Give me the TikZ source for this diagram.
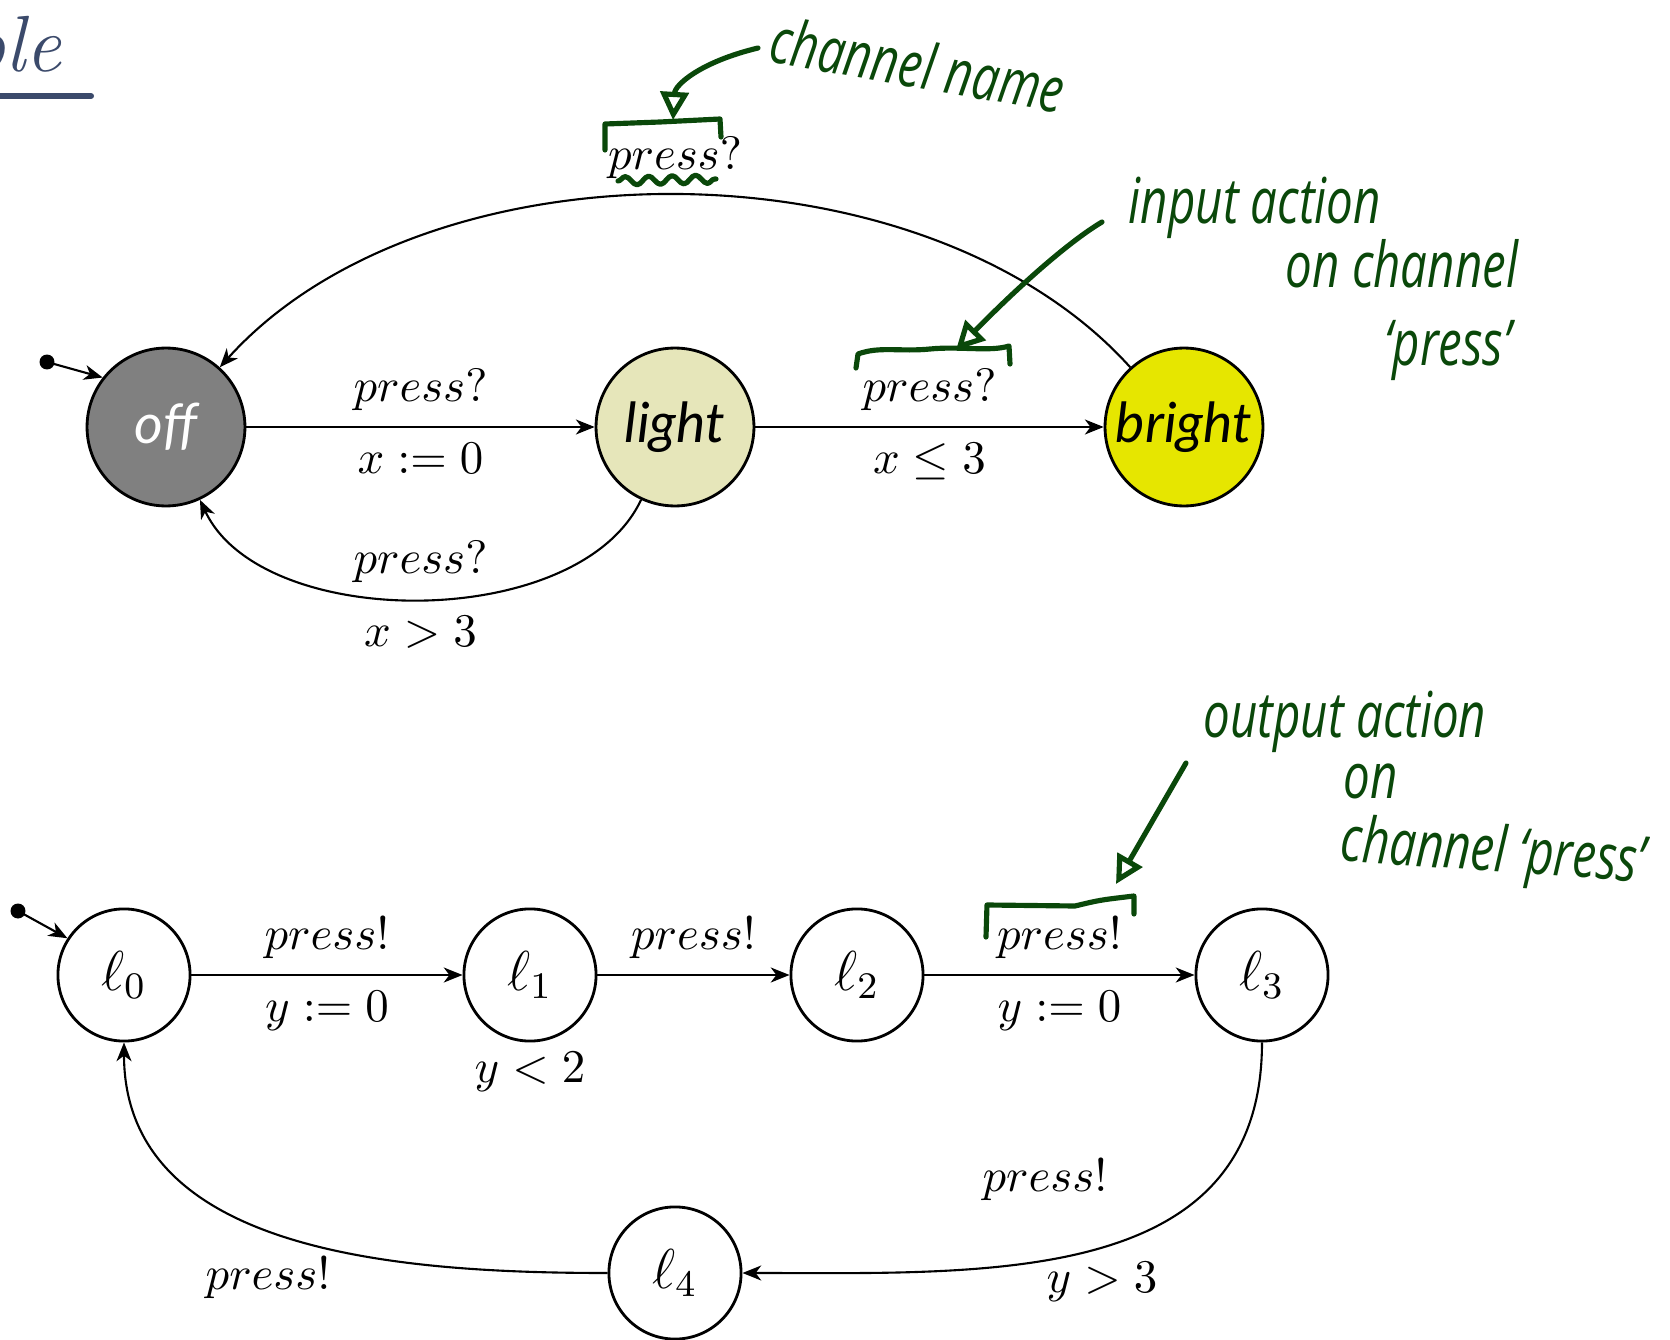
\documentclass[tikz,border=0pt]{standalone}
\usepackage{fontspec}
\usetikzlibrary{arrows.meta,decorations.pathmorphing}
\newfontfamily\nodefont{Lato}
\newfontfamily\hand[FakeStretch=0.75]{Open Sans}
\definecolor{pen}{RGB}{10,72,10}
\definecolor{titlec}{RGB}{59,74,107}
\definecolor{offc}{RGB}{128,128,128}
\definecolor{lightc}{RGB}{230,230,186}
\definecolor{brightc}{RGB}{230,230,0}
\begin{document}
\begin{tikzpicture}[x=0.2134pt,y=-0.2134pt,
  loc/.style={circle, draw, line width=0.6pt, inner sep=0pt},
  bigloc/.style={loc, minimum size=33.7pt, font=\nodefont\itshape\fontsize{11.8}{12}\selectfont},
  smallloc/.style={loc, minimum size=28.2pt, font=\large},
  trans/.style={line width=0.45pt, -{Stealth[length=4pt,width=3.2pt,inset=1.2pt]}},
  ann/.style={pen, line width=1.1pt, line cap=round, line join=round},
  anntip/.style={-{Triangle[open,length=6pt,width=6pt,line width=1.1pt]}},
  handtext/.style={text=pen, font=\hand\itshape\fontsize{13.5}{13.5}\selectfont, inner sep=0pt},
]
\useasboundingbox (0,0) rectangle (1670,1340);

% title fragment
\node (title) [anchor=base east, text=titlec, font=\fontsize{17}{17}\selectfont\itshape, inner sep=0pt] at (62,72) {ple};
\draw[titlec, line width=1.3pt, line cap=round] (-5,96) -- (91,96);

% upper automaton
\node (off) [bigloc, fill=offc, text=white] at (166,427) {off};
\node (light) [bigloc, fill=lightc] at (675,427) {light};
\node (bright) [bigloc, fill=brightc] at (1184,427) {bright};

\coordinate (s0) at (47,362);
\fill (s0) circle[radius=1.6pt];
\draw[trans] (s0) -- (off.142);

\draw[trans] (off) -- node (p1) [above] {$press?$} node (g1) [below] {$x := 0$} (light);
\draw[trans] (light) -- node (p2) [above] {$press?$} node (g2) [below] {$x \leq 3$} (bright);
\draw[trans] (light) to[bend left=65, looseness=0.85] node (p3) [above] {$press?$} node (g3) [below] {$x > 3$} (off);
\draw[trans] (bright) to[bend right=48, looseness=0.87] node (p4) [above] {$press?$} (off);

% lower automaton
\node (l0) [smallloc] at (124,975) {$\ell_0$};
\node (l1) [smallloc] at (530,975) {$\ell_1$};
\node (l2) [smallloc] at (857,975) {$\ell_2$};
\node (l3) [smallloc] at (1262,975) {$\ell_3$};
\node (l4) [smallloc] at (675,1273) {$\ell_4$};
\node (inv1) [below, inner sep=2pt] at (l1.south) {$y < 2$};

\coordinate (s1) at (18,911);
\fill (s1) circle[radius=1.6pt];
\draw[trans] (s1) -- (l0.147);

\draw[trans] (l0) -- node (q1) [above] {$press!$} node (h1) [below] {$y := 0$} (l1);
\draw[trans] (l1) -- node (q2) [above] {$press!$} (l2);
\draw[trans] (l2) -- node (q3) [above] {$press!$} node (h3) [below] {$y := 0$} (l3);
\draw[trans] (l3.south) to[out=-90, in=0, looseness=1.1]
  node (q4) [pos=0.5, shift={(-49,-70)}] {$press!$}
  node (h4) [pos=0.5, shift={(8,32)}] {$y > 3$} (l4.east);
\draw[trans] (l4.west) to[out=180, in=-90]
  node (q5) [pos=0.5, shift={(-19,41)}] {$press!$} (l0.south);

% annotations
\node (n1) [handtext, rotate=-10] at (918,64) {channel name};
\draw[ann, anntip] (758,48) .. controls (700,62) and (675,85) .. (673,120);
\draw[ann] (605,150) -- (605,124) -- (660,122) -- (720,119) -- (721,137);
\draw[ann, decorate, decoration={snake, amplitude=0.9pt, segment length=5pt}] (618,181) -- (716,179);

\node (n2) [handtext] at (1255,208) {input action};
\node (n3) [handtext] at (1402,264) {on channel};
\node (n4) [handtext] at (1448,350) {‘press’};
\draw[ann, anntip] (1102,222) .. controls (1075,238) and (1030,275) .. (956,350);
\draw[ann] (856,368) -- (858,354) .. controls (880,346) and (900,352) .. (930,349) .. controls (960,346) and (990,352) .. (1009,346) -- (1010,364);

\node (n5) [handtext] at (1345,722) {output action};
\node (n6) [handtext] at (1371,781) {on};
\node (n7) [handtext, rotate=-4] at (1493,855) {channel ‘press’};
\draw[ann, anntip] (1186,763) -- (1116,884);
\draw[ann] (986,937) -- (987,905) -- (1075,906) .. controls (1100,900) .. (1134,896) -- (1134,914);
\end{tikzpicture}
\end{document}
